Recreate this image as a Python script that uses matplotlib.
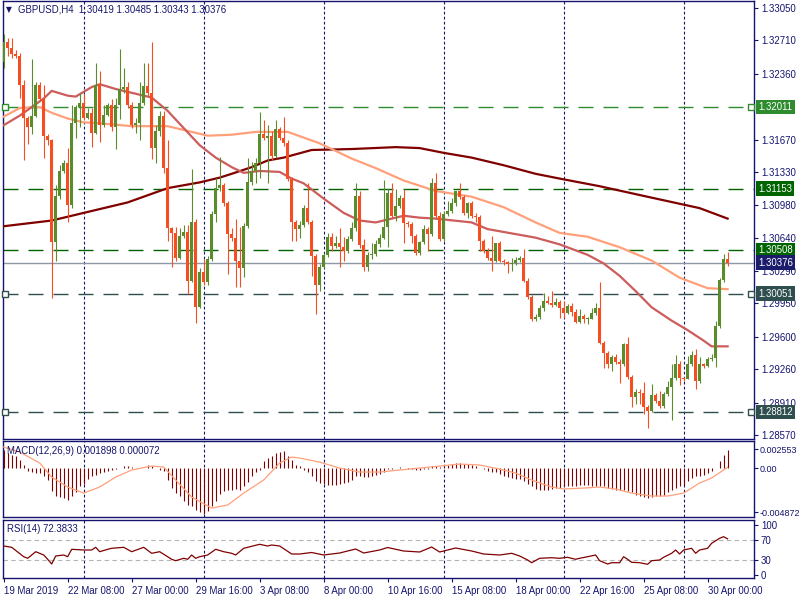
import numpy as np
import matplotlib.pyplot as plt

plt.rcParams["font.family"] = ["Liberation Sans", "DejaVu Sans"]

NAVY = "#14146e"
BULL = "#5a8c2b"
BEAR = "#f44e22"
FS = 6.9

# GBPUSD H4 candles (open of each bar = close of the previous one)
first_open = 1.3248
close = [
    1.3269, 1.3263, 1.3257, 1.3255, 1.3224, 1.3190, 1.3180, 1.3192, 1.3224, 1.3210,
    1.3171, 1.3166, 1.3059, 1.3108, 1.3134, 1.3142, 1.3098, 1.3184, 1.3201, 1.3205,
    1.3190, 1.3195, 1.3174, 1.3224, 1.3182, 1.3193, 1.3203, 1.3180, 1.3203, 1.3220,
    1.3222, 1.3203, 1.3182, 1.3184, 1.3205, 1.3223, 1.3216, 1.3158, 1.3176, 1.3192,
    1.3137, 1.3074, 1.3069, 1.3043, 1.3066, 1.3070, 1.3019, 1.3080, 1.2991, 1.3028,
    1.3017, 1.3042, 1.3089, 1.3116, 1.3119, 1.3100, 1.3068, 1.3064, 1.3040, 1.3032,
    1.3076, 1.3122, 1.3134, 1.3142, 1.3173, 1.3169, 1.3171, 1.3150, 1.3178, 1.3169,
    1.3163, 1.3126, 1.3080, 1.3073, 1.3077, 1.3095, 1.3080, 1.3045, 1.3014, 1.3033,
    1.3046, 1.3065, 1.3055, 1.3058, 1.3054, 1.3050, 1.3063, 1.3074, 1.3108, 1.3056,
    1.3033, 1.3046, 1.3047, 1.3057, 1.3064, 1.3075, 1.3111, 1.3087, 1.3097, 1.3106,
    1.3079, 1.3078, 1.3066, 1.3048, 1.3059, 1.3073, 1.3068, 1.3121, 1.3087, 1.3063,
    1.3089, 1.3092, 1.3100, 1.3113, 1.3107, 1.3090, 1.3100, 1.3087, 1.3086, 1.3060,
    1.3050, 1.3043, 1.3040, 1.3058, 1.3040, 1.3038, 1.3036, 1.3037, 1.3041, 1.3043,
    1.3019, 1.3002, 1.2979, 1.2981, 1.2990, 1.2998, 1.2996, 1.2993, 1.2997, 1.2990,
    1.2985, 1.2992, 1.2986, 1.2976, 1.2982, 1.2979, 1.2979, 1.2985, 1.2990, 1.2954,
    1.2943, 1.2932, 1.2939, 1.2934, 1.2931, 1.2952, 1.2918, 1.2897, 1.2902, 1.2901,
    1.2886, 1.2882, 1.2899, 1.2893, 1.2887, 1.2900, 1.2907, 1.2917, 1.2931, 1.2917,
    1.2916, 1.2932, 1.2941, 1.2914, 1.2931, 1.2929, 1.2937, 1.2938, 1.2971, 1.3020,
    1.30419, 1.30376,
]
high = [
    1.3278, 1.3274, 1.3273, 1.3261, 1.3258, 1.3229, 1.3192, 1.3251, 1.3227, 1.3227,
    1.3224, 1.3173, 1.3168, 1.3119, 1.3140, 1.3145, 1.3158, 1.3203, 1.3203, 1.3216,
    1.3215, 1.3200, 1.3200, 1.3247, 1.3239, 1.3203, 1.3205, 1.3210, 1.3211, 1.3262,
    1.3242, 1.3227, 1.3206, 1.3190, 1.3227, 1.3247, 1.3247, 1.3269, 1.3182, 1.3197,
    1.3197, 1.3166, 1.3075, 1.3075, 1.3074, 1.3077, 1.3077, 1.3136, 1.3084, 1.3032,
    1.3042, 1.3045, 1.3092, 1.3127, 1.3149, 1.3121, 1.3102, 1.3074, 1.3084, 1.3075,
    1.3079, 1.3148, 1.3143, 1.3148, 1.3196, 1.3187, 1.3182, 1.3176, 1.3187, 1.3180,
    1.3191, 1.3166, 1.3128, 1.3083, 1.3081, 1.3098, 1.3121, 1.3083, 1.3047, 1.3036,
    1.3048, 1.3069, 1.3069, 1.3066, 1.3074, 1.3065, 1.3066, 1.3080, 1.3121, 1.3113,
    1.3063, 1.3049, 1.3058, 1.3062, 1.3068, 1.3124, 1.3115, 1.3121, 1.3115, 1.3109,
    1.3115, 1.3082, 1.3080, 1.3068, 1.3061, 1.3077, 1.3075, 1.3127, 1.3132, 1.3091,
    1.3092, 1.3103, 1.3106, 1.3113, 1.3121, 1.3109, 1.3101, 1.3102, 1.3090, 1.3088,
    1.3063, 1.3053, 1.3066, 1.3058, 1.3060, 1.3042, 1.3040, 1.3043, 1.3044, 1.3045,
    1.3052, 1.3022, 1.3004, 1.2984, 1.2993, 1.3006, 1.3003, 1.3008, 1.3001, 1.2999,
    1.2998, 1.2994, 1.2996, 1.2989, 1.2989, 1.2984, 1.2981, 1.2990, 1.2996, 1.3017,
    1.2956, 1.2945, 1.2941, 1.2942, 1.2937, 1.2954, 1.2960, 1.2920, 1.2905, 1.2905,
    1.2913, 1.2888, 1.2911, 1.2901, 1.2903, 1.2902, 1.2914, 1.2931, 1.2941, 1.2935,
    1.2918, 1.2940, 1.2945, 1.2947, 1.2939, 1.2933, 1.2939, 1.2942, 1.2977, 1.3022,
    1.3047, 1.30485,
]
low = [
    1.3242, 1.3255, 1.3252, 1.3252, 1.3211, 1.3145, 1.3162, 1.3173, 1.3191, 1.3208,
    1.3148, 1.3161, 1.3001, 1.3040, 1.3105, 1.3132, 1.3080, 1.3095, 1.3169, 1.3180,
    1.3187, 1.3189, 1.3159, 1.3173, 1.3164, 1.3180, 1.3192, 1.3176, 1.3157, 1.3189,
    1.3216, 1.3200, 1.3179, 1.3174, 1.3166, 1.3203, 1.3213, 1.3147, 1.3142, 1.3171,
    1.3132, 1.3061, 1.3033, 1.3040, 1.3042, 1.3064, 1.3005, 1.3017, 1.2975, 1.2990,
    1.3014, 1.3014, 1.3040, 1.3080, 1.3113, 1.3097, 1.3026, 1.3061, 1.3012, 1.3012,
    1.3023, 1.3074, 1.3119, 1.3121, 1.3127, 1.3166, 1.3121, 1.3145, 1.3148, 1.3166,
    1.3160, 1.3123, 1.3061, 1.3061, 1.3064, 1.3075, 1.3078, 1.3024, 1.2984, 1.3008,
    1.3032, 1.3044, 1.3050, 1.3053, 1.3033, 1.3040, 1.3048, 1.3061, 1.3071, 1.3053,
    1.3029, 1.3029, 1.3042, 1.3045, 1.3054, 1.3063, 1.3054, 1.3085, 1.3082, 1.3095,
    1.3058, 1.3075, 1.3058, 1.3046, 1.3046, 1.3057, 1.3050, 1.3066, 1.3084, 1.3061,
    1.3061, 1.3087, 1.3090, 1.3097, 1.3105, 1.3088, 1.3085, 1.3085, 1.3080, 1.3050,
    1.3048, 1.3041, 1.3029, 1.3038, 1.3038, 1.3035, 1.3027, 1.3029, 1.3035, 1.3038,
    1.3017, 1.3000, 1.2977, 1.2977, 1.2979, 1.2987, 1.2994, 1.2991, 1.2992, 1.2980,
    1.2980, 1.2984, 1.2982, 1.2974, 1.2974, 1.2974, 1.2973, 1.2979, 1.2983, 1.2952,
    1.2927, 1.2927, 1.2924, 1.2932, 1.2912, 1.2929, 1.2916, 1.2886, 1.2890, 1.2890,
    1.2879, 1.2864, 1.2881, 1.2891, 1.2885, 1.2885, 1.2898, 1.2873, 1.2915, 1.2909,
    1.2914, 1.2916, 1.2929, 1.2905, 1.2912, 1.2927, 1.2928, 1.2935, 1.2928, 1.2969,
    1.3018, 1.30343,
]

# moving averages, read at sample bars
ma_slow_idx = [0, 12, 20, 26, 31, 37, 41, 49, 54, 57, 62, 66, 70, 77, 87, 98, 104,
               110, 117, 125, 133, 139, 149, 162, 174, 181]
ma_slow = [1.3076, 1.3082, 1.3090, 1.3096, 1.3101, 1.3110, 1.3116, 1.3122, 1.3127,
           1.3131, 1.3138, 1.3145, 1.3148, 1.3156, 1.3157, 1.3159, 1.3158, 1.3153,
           1.3148, 1.3140, 1.3131, 1.3126, 1.3118, 1.3106, 1.3095, 1.3084]
ma_mid_idx = [0, 4, 9, 12, 16, 20, 24, 32, 41, 46, 51, 57, 63, 71, 79, 87, 93, 100,
              108, 117, 125, 133, 139, 146, 154, 162, 169, 176, 181]
ma_mid = [1.3191, 1.3200, 1.3201, 1.3195, 1.3189, 1.3185, 1.3184, 1.3181, 1.3181,
          1.3176, 1.3171, 1.3172, 1.3175, 1.3175, 1.3163, 1.3147, 1.3137, 1.3124,
          1.3113, 1.3107, 1.3096, 1.3080, 1.3069, 1.3065, 1.3054, 1.3040, 1.3022,
          1.3011, 1.3010]
ma_fast_idx = [0, 4, 7, 10, 12, 16, 18, 22, 24, 28, 32, 37, 41, 45, 49, 53, 57, 60,
               64, 69, 72, 75, 80, 85, 89, 93, 96, 100, 104, 108, 117, 121, 125, 133,
               139, 146, 150, 154, 158, 162, 167, 171, 175, 177, 181]
ma_fast = [1.3182, 1.3192, 1.3201, 1.3210, 1.3218, 1.3213, 1.3212, 1.3222, 1.3225,
           1.3220, 1.3216, 1.3211, 1.3197, 1.3179, 1.3161, 1.3148, 1.3138, 1.3132,
           1.3134, 1.3133, 1.3126, 1.3121, 1.3105, 1.3090, 1.3082, 1.3080, 1.3083,
           1.3087, 1.3085, 1.3084, 1.3080, 1.3073, 1.3070, 1.3064, 1.3057, 1.3046,
           1.3037, 1.3024, 1.3008, 1.2991, 1.2977, 1.2967, 1.2956, 1.2950, 1.2950]

# MACD(12,26,9): histogram per bar, signal line at sample bars
macd_hist = [
    0.00193, 0.00158, 0.00140, 0.00123, 0.00087, 0.00035, -0.00035, -0.00045, -0.00053, -0.00053,
    -0.00087, -0.00123, -0.00246, -0.00298, -0.00306, -0.00316, -0.00340, -0.00298, -0.00256, -0.00193,
    -0.00165, -0.00116, -0.00087, -0.00071, -0.00053, -0.00045, -0.00035, -0.00024, -0.00011, -0.00003,
    0.00024, 0.00024, 0.00011, 0.00003, 0.00003, -0.00003, 0.00035, 0.00018, 0.00000, -0.00018,
    -0.00035, -0.00123, -0.00211, -0.00264, -0.00298, -0.00351, -0.00387, -0.00404, -0.00446, -0.00467,
    -0.004872, -0.00456, -0.00404, -0.00351, -0.00271, -0.00246, -0.00229, -0.00229, -0.00221, -0.00229,
    -0.00193, -0.00151, -0.00087, -0.00045, -0.00018, 0.00071, 0.00105, 0.00130, 0.00158, 0.00165,
    0.00176, 0.00123, 0.00081, 0.00035, 0.00018, -0.00021, -0.00042, -0.00084, -0.00137, -0.00158,
    -0.00169, -0.00179, -0.00179, -0.00179, -0.00169, -0.00158, -0.00148, -0.00126, -0.00084, -0.00084,
    -0.00095, -0.00095, -0.00084, -0.00074, -0.00063, -0.00042, -0.00011, -0.00011, 0.00000, 0.00011,
    0.00000, -0.00011, -0.00011, -0.00021, -0.00021, -0.00011, -0.00011, 0.00021, 0.00021, 0.00011,
    0.00021, 0.00032, 0.00042, 0.00053, 0.00053, 0.00042, 0.00042, 0.00032, 0.00021, 0.00000,
    -0.00011, -0.00032, -0.00042, -0.00042, -0.00063, -0.00081, -0.00095, -0.00105, -0.00116, -0.00116,
    -0.00140, -0.00165, -0.00193, -0.00221, -0.00235, -0.00235, -0.00229, -0.00221, -0.00211, -0.00211,
    -0.00193, -0.00187, -0.00187, -0.00187, -0.00176, -0.00176, -0.00176, -0.00187, -0.00193, -0.00193,
    -0.00193, -0.00211, -0.00221, -0.00229, -0.00235, -0.00235, -0.00246, -0.00256, -0.00281, -0.00292,
    -0.00306, -0.00316, -0.00306, -0.00298, -0.00292, -0.00281, -0.00256, -0.00229, -0.00211, -0.00193,
    -0.00176, -0.00140, -0.00105, -0.00087, -0.00081, -0.00071, -0.00053, -0.00035, 0.00000, 0.00071,
    0.00140, 0.001898,
]
signal_idx = [0, 4, 9, 12, 16, 20, 24, 28, 32, 37, 40, 43, 47, 52, 56, 60, 65, 69, 72,
              74, 79, 84, 89, 94, 99, 104, 109, 114, 119, 124, 128, 132, 137, 140, 145,
              149, 153, 157, 162, 166, 170, 174, 177, 181]
signal_val = [0.00221, 0.00169, 0.00053, -0.00095, -0.00200, -0.00264, -0.00200,
              -0.00095, -0.00021, 0.00021, 0.00011, -0.00126, -0.00306, -0.00422,
              -0.00390, -0.00264, -0.00126, 0.00053, 0.00116, 0.00105, 0.00063, 0.0,
              -0.00042, -0.00042, -0.00021, 0.0, 0.00021, 0.00042, 0.00032, -0.00011,
              -0.00053, -0.00126, -0.00200, -0.00221, -0.00211, -0.00200, -0.00221,
              -0.00264, -0.00295, -0.00295, -0.00264, -0.00158, -0.00105, 0.000072]

# RSI(14) at sample bars
rsi_idx = [0, 2, 5, 6, 8, 10, 11, 12, 13, 15, 16, 17, 20, 22, 23, 24, 26, 27, 30, 32,
           35, 37, 39, 42, 43, 45, 46, 47, 48, 49, 51, 53, 55, 57, 58, 60, 64, 66, 67,
           69, 72, 74, 77, 80, 84, 88, 90, 94, 96, 100, 104, 107, 109, 113, 117, 120,
           124, 127, 129, 131, 132, 134, 137, 139, 141, 143, 144, 146, 148, 149, 151,
           152, 154, 155, 156, 157, 159, 161, 162, 164, 165, 167, 168, 169, 170, 172,
           173, 174, 176, 177, 179, 180, 181]
rsi_val = [58, 55.4, 36.6, 33.4, 46.6, 40, 31.4, 22, 38, 40, 36.6, 51.4, 50, 50, 55.4,
           46.6, 51.4, 53.4, 55.4, 46.6, 55.4, 43.4, 46.6, 31.4, 28.6, 33.4, 31.4, 40,
           33.4, 36.6, 40, 51.4, 46.6, 43.4, 40, 53.4, 61.4, 58, 60, 58, 42, 42, 45, 40,
           44, 52, 44, 50, 55, 48, 46, 56, 46, 54, 48, 42, 40, 43.4, 38, 30, 24.6, 33.4,
           34.6, 33.4, 35.4, 31.4, 33.4, 36.6, 40, 28.6, 22, 24.6, 24.6, 36.6, 31.4,
           25.4, 24.6, 21.4, 28.6, 30, 35.4, 43.4, 50, 42, 50, 53.4, 43.4, 50, 53.4,
           63.4, 73.4, 76.6, 72.3833]

date_idx = [0, 16, 32, 48, 64, 80, 96, 112, 128, 144, 160, 176]
date_labels = ["19 Mar 2019", "22 Mar 08:00", "27 Mar 00:00", "29 Mar 16:00",
               "3 Apr 08:00", "8 Apr 00:00", "10 Apr 16:00", "15 Apr 08:00",
               "18 Apr 00:00", "22 Apr 16:00", "25 Apr 08:00", "30 Apr 00:00"]
week_sep = [20, 50, 80, 110, 140, 170]

price_ticks = [1.33050, 1.32710, 1.32360, 1.31670, 1.31330, 1.30980, 1.30640,
               1.30290, 1.29950, 1.29600, 1.29260, 1.28910, 1.28570]
levels = [1.32011, 1.31153, 1.30508, 1.30051, 1.28812]
level_colors = ["#2e8b2e", "#006400", "#006400", "#2f4f4f", "#2f4f4f"]
level_marked = [True, False, False, True, True]
last_price = 1.30376
macd_labels = ["0.002553", "0.00", "-0.004872"]
rsi_levels = [100, 70, 30, 0]


def frac(x0, y0, x1, y1):
    # pixel box (top-left origin) -> figure fraction rect
    return [x0 / 800, 1 - y1 / 600, (x1 - x0) / 800, (y1 - y0) / 600]


fig = plt.figure(figsize=(8, 6), dpi=100, facecolor="white")
ax = fig.add_axes(frac(3, 1, 754, 439))
ax_m = fig.add_axes(frac(3, 441, 754, 517))
ax_r = fig.add_axes(frac(3, 520, 754, 578))

XMIN, XMAX = -0.175, 187.6
for a in (ax, ax_m, ax_r):
    a.set_xlim(XMIN, XMAX)
    for s in a.spines.values():
        s.set_color(NAVY)
        s.set_linewidth(1.0)
    a.yaxis.tick_right()
    a.tick_params(axis="y", direction="out", length=3, width=0.8, colors=NAVY,
                  labelsize=FS, pad=2)
    a.tick_params(axis="x", bottom=False, labelbottom=False)
    for i in week_sep:
        a.axvline(i, color=NAVY, lw=0.8, ls=(0, (2.5, 2)), zorder=1)

# ---- main pane
n = len(close)
x = np.arange(n)
c = np.array(close)
o = np.array([first_open] + close[:-1])
hi = np.maximum(np.array(high), np.maximum(o, c))
lo = np.minimum(np.array(low), np.minimum(o, c))
cols = np.where(c >= o, BULL, BEAR)
body = np.abs(c - o)
bh = np.maximum(body, 0.00009)
bottom = np.minimum(o, c) - (bh - body) / 2

ax.set_ylim(1.28528, 1.33123)
ax.set_yticks(price_ticks)
ax.set_yticklabels([f"{p:.5f}" for p in price_ticks])

ax.axhline(last_price, color="#8c98a6", lw=1.0, zorder=2)
for lvl, col, mk in zip(levels, level_colors, level_marked):
    ax.axhline(lvl, color=col, lw=1.0, ls=(0, (10.8, 7.2)), zorder=2)
    if mk:
        ax.plot([0.0027, 0.996], [lvl, lvl], "s", ms=4, mfc="white", mec=col, mew=1,
                transform=ax.get_yaxis_transform(), clip_on=False, zorder=7)

ax.plot(ma_slow_idx, ma_slow, color="#800000", lw=1.6, zorder=3)
ax.plot(ma_mid_idx, ma_mid, color="#ffa07a", lw=1.6, zorder=3)
ax.plot(ma_fast_idx, ma_fast, color="#cd5c5c", lw=1.6, zorder=3)

ax.vlines(x, lo, hi, colors=cols, lw=0.8, zorder=4)
ax.bar(x, bh, bottom=bottom, width=0.72, color=cols, lw=0, zorder=5)

box_colors = level_colors + ["#1c1c6c"]
box_vals = levels + [last_price]
for v, col in zip(box_vals, box_colors):
    ax.text(1.0 + 4 / 751, v, f"{v:.5f}", transform=ax.get_yaxis_transform(),
            ha="left", va="center", color="white", fontsize=FS, zorder=10,
            clip_on=False,
            bbox=dict(boxstyle="square,pad=0.25", fc=col, ec="none"))

fig.text(6 / 800, 1 - 10 / 600, "\u25bc", fontsize=5.5, color=NAVY, va="center",
         family="DejaVu Sans")
fig.text(18 / 800, 1 - 10 / 600, "GBPUSD,H4  1.30419 1.30485 1.30343 1.30376",
         fontsize=FS, color=NAVY, va="center")

# ---- MACD pane (scale labels sit inside the pane, as the terminal draws them)
ax_m.set_ylim(-0.00516, 0.00285)
ax_m.vlines(x, 0, macd_hist, colors="#800000", lw=0.8, zorder=3)
ax_m.plot(signal_idx, signal_val, color="#ffa07a", lw=0.9, zorder=4)
ax_m.set_yticks([0.0020, 0.0, -0.00464])
ax_m.set_yticklabels(macd_labels)
ax_m.tick_params(axis="y", pad=0.8, labelsize=6.5)
fig.text(7 / 800, 1 - 451 / 600, "MACD(12,26,9) 0.001898 0.000072", fontsize=FS,
         color=NAVY, va="center")

# ---- RSI pane
ax_r.set_ylim(-6, 110)
for lvl in (70, 30):
    ax_r.axhline(lvl, color="#b4b4b4", lw=0.8, ls=(0, (4, 3)), zorder=2)
ax_r.plot(rsi_idx, rsi_val, color="#800000", lw=0.9, zorder=3)
ax_r.set_yticks(rsi_levels)
ax_r.set_yticklabels([str(v) for v in rsi_levels])
fig.text(7 / 800, 1 - 529 / 600, "RSI(14) 72.3833", fontsize=FS, color=NAVY,
         va="center")

ax_r.tick_params(axis="x", bottom=True, labelbottom=True, direction="out", length=3,
                 width=0.8, colors=NAVY, labelsize=FS, pad=3)
ax_r.set_xticks(date_idx)
ax_r.set_xticklabels(date_labels, ha="left")

fig.savefig("out.png", dpi=100, facecolor="white")
